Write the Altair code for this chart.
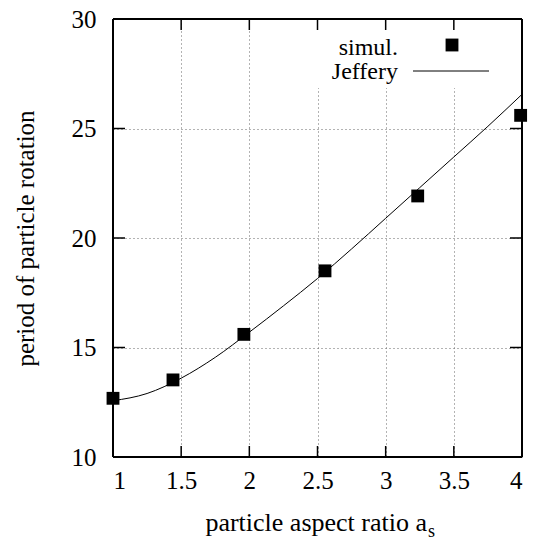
import altair as alt
import pandas as pd

# simulation data
sim_x = [1.0, 1.44, 1.96, 2.555, 3.235, 3.99]
sim_y = [12.68, 13.52, 15.6, 18.5, 21.92, 25.6]

# Jeffery curve
jef_x = [1.0, 1.25, 1.5, 1.75, 2.0, 2.25, 2.5, 2.75, 3.0, 3.25, 3.5, 3.75, 4.0]
jef_y = [12.57, 12.9, 13.6, 14.55, 15.7, 16.9, 18.15, 19.5, 20.9, 22.3, 23.7, 25.1, 26.56]

x_ticks = [1, 1.5, 2, 2.5, 3, 3.5, 4]
y_ticks = [10, 15, 20, 25, 30]
x_inner = [1.5, 2, 2.5, 3, 3.5]
y_inner = [15, 20, 25]
legend_labels = ["simul.", "Jeffery"]

W, H = 409, 438
FONT = "Liberation Serif"

sim = pd.DataFrame({"x": sim_x, "y": sim_y})
jef = pd.DataFrame({"x": jef_x, "y": jef_y})
xt = pd.DataFrame({"x": x_inner})
yt = pd.DataFrame({"y": y_inner})


def one():
    return alt.Data(values=[{"k": 0}])


xscale = alt.Scale(domain=[1, 4], nice=False, zero=False)
yscale = alt.Scale(domain=[10, 30], nice=False, zero=False)

xaxis = alt.Axis(values=x_ticks, title=None, grid=True, ticks=False, tickSize=0,
                 domain=False, labelFont=FONT, labelFontSize=25, labelColor="black",
                 labelPadding=11, gridDash=[1, 3], gridColor="#666666",
                 labelExpr="datum.value")
yaxis = alt.Axis(values=y_ticks, title="period of particle rotation", grid=True, ticks=False,
                 tickSize=0, domain=False, labelFont=FONT, labelFontSize=25, labelColor="black",
                 labelPadding=17, gridDash=[1, 3], gridColor="#666666",
                 titleFont=FONT, titleFontSize=25, titleFontWeight="normal", titleColor="black",
                 titleAngle=-90, titleX=-88, titleY=H / 2, titleAlign="center",
                 titleBaseline="middle")

curve = alt.Chart(jef).mark_line(interpolate="monotone", color="black", strokeWidth=1).encode(
    x=alt.X("x:Q", scale=xscale, axis=xaxis),
    y=alt.Y("y:Q", scale=yscale, axis=yaxis),
)

# white legend box covering grid
box = alt.Chart(one()).mark_rect(color="white").encode(
    x=alt.value(197), x2=alt.value(W - 1), y=alt.value(1), y2=alt.value(69)
)

points = alt.Chart(sim).mark_square(size=165, color="black", opacity=1).encode(
    x=alt.X("x:Q", scale=xscale), y=alt.Y("y:Q", scale=yscale)
)

leg_text = []
for lab, ty in zip(legend_labels, [36, 60]):
    leg_text.append(alt.Chart(one()).mark_text(font=FONT, fontSize=24, align="right",
                                               baseline="alphabetic", color="black").encode(
        x=alt.value(285), y=alt.value(ty), text=alt.value(lab)))
leg_sq = alt.Chart(one()).mark_square(size=165, color="black", opacity=1).encode(
    x=alt.value(339), y=alt.value(26)
)
leg_line = alt.Chart(one()).mark_rule(color="black", strokeWidth=1).encode(
    x=alt.value(300), x2=alt.value(376), y=alt.value(52)
)

# inward ticks on all four sides
tick_b = alt.Chart(xt).mark_rule(color="black", strokeWidth=1.5).encode(
    x=alt.X("x:Q", scale=xscale), y=alt.value(H), y2=alt.value(H - 11))
tick_t = alt.Chart(xt).mark_rule(color="black", strokeWidth=1.5).encode(
    x=alt.X("x:Q", scale=xscale), y=alt.value(0), y2=alt.value(11))
tick_l = alt.Chart(yt).mark_rule(color="black", strokeWidth=1.5).encode(
    y=alt.Y("y:Q", scale=yscale), x=alt.value(0), x2=alt.value(12))
tick_r = alt.Chart(yt).mark_rule(color="black", strokeWidth=1.5).encode(
    y=alt.Y("y:Q", scale=yscale), x=alt.value(W), x2=alt.value(W - 12))

# frame
fr_style = dict(color="black", strokeWidth=2)
f_top = alt.Chart(one()).mark_rule(**fr_style).encode(x=alt.value(0), x2=alt.value(W), y=alt.value(0))
f_bot = alt.Chart(one()).mark_rule(**fr_style).encode(x=alt.value(0), x2=alt.value(W), y=alt.value(H))
f_lef = alt.Chart(one()).mark_rule(**fr_style).encode(y=alt.value(0), y2=alt.value(H), x=alt.value(0))
f_rig = alt.Chart(one()).mark_rule(**fr_style).encode(y=alt.value(0), y2=alt.value(H), x=alt.value(W))

# x-axis title with subscript
xt_main = alt.Chart(one()).mark_text(font=FONT, fontSize=26, align="right", baseline="alphabetic",
                                       color="black").encode(
    x=alt.value(314), y=alt.value(512), text=alt.value("particle aspect ratio a"))
xt_sub = alt.Chart(one()).mark_text(font=FONT, fontSize=18, align="left", baseline="alphabetic",
                                      color="black").encode(
    x=alt.value(315), y=alt.value(518), text=alt.value("s"))

chart = alt.layer(
    curve, box, points, *leg_text, leg_sq, leg_line,
    tick_b, tick_t, tick_l, tick_r, f_top, f_bot, f_lef, f_rig, xt_main, xt_sub
).properties(
    width=W, height=H,
    background="white",
    autosize=alt.AutoSizeParams(type="none"),
    padding={"left": 113, "top": 19, "right": 12, "bottom": 84},
).configure_view(stroke=None)

chart.save("out.html", embed_options={"renderer": "svg", "actions": False})
